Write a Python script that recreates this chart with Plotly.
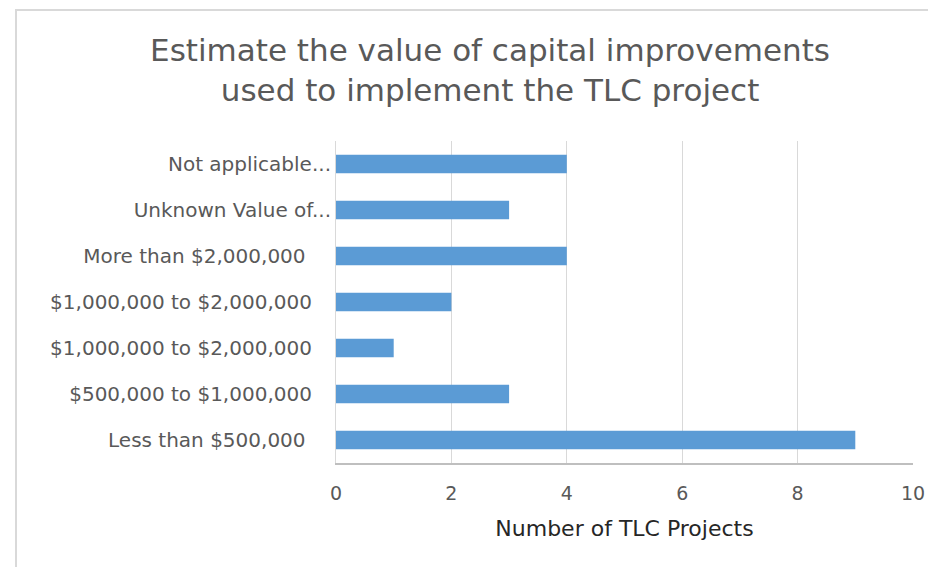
import plotly.graph_objects as go

categories = ["Less than $500,000    ", "$500,000 to $1,000,000   ", "$1,000,000 to $2,000,000   ",
              "$1,000,000 to $2,000,000   ", "More than $2,000,000    ", "Unknown Value of...",
              "Not applicable..."]
projects = [9, 3, 1, 2, 4, 3, 4]
x_ticks = [0, 2, 4, 6, 8, 10]

# duplicate labels, so plot on positions and label the ticks
pos = list(range(len(categories)))

# page adds 8px body margin, figure is shifted by that
L, T, W, H = 328, 133, 577, 322

fig = go.Figure()
fig.add_trace(go.Bar(x=projects, y=pos, orientation="h", width=0.4,
                     marker=dict(color="#5b9bd5", line=dict(width=0))))

fig.update_layout(
    width=936, height=567,
    paper_bgcolor="white", plot_bgcolor="white",
    margin=dict(l=L, r=936 - L - W, t=T, b=567 - T - H),
    showlegend=False,
    font=dict(family="DejaVu Sans", color="#595959"),
    title=dict(text="Estimate the value of capital improvements<br>used to implement the TLC project",
               x=0.515, xanchor="center", y=0.907, yanchor="top",
               font=dict(family="DejaVu Sans", size=31, color="#595959")),
)
fig.update_xaxes(range=[0, 10], tickvals=x_ticks, showgrid=True, gridcolor="#d9d9d9",
                 gridwidth=1, zeroline=False, showline=True, linecolor="#bfbfbf",
                 linewidth=2, ticks="", ticklabelstandoff=12,
                 tickfont=dict(size=19, color="#595959"),
                 title=dict(text="Number of TLC Projects", standoff=18,
                            font=dict(size=22, color="#262626")))
fig.update_yaxes(range=[-0.5, 6.5], tickvals=pos, ticktext=categories,
                 showgrid=False, zeroline=False, showline=True, linecolor="#d9d9d9",
                 linewidth=1, ticks="", ticklabelstandoff=0,
                 tickfont=dict(size=20, color="#595959"))

# outer chart border
fig.add_shape(type="rect", xref="paper", yref="paper",
              x0=(8 - L) / W, x1=(945 - L) / W,
              y0=(T + H - 575) / H, y1=(T + H - 2) / H,
              line=dict(color="#d9d9d9", width=2), layer="below")

fig.write_html("out.html")
